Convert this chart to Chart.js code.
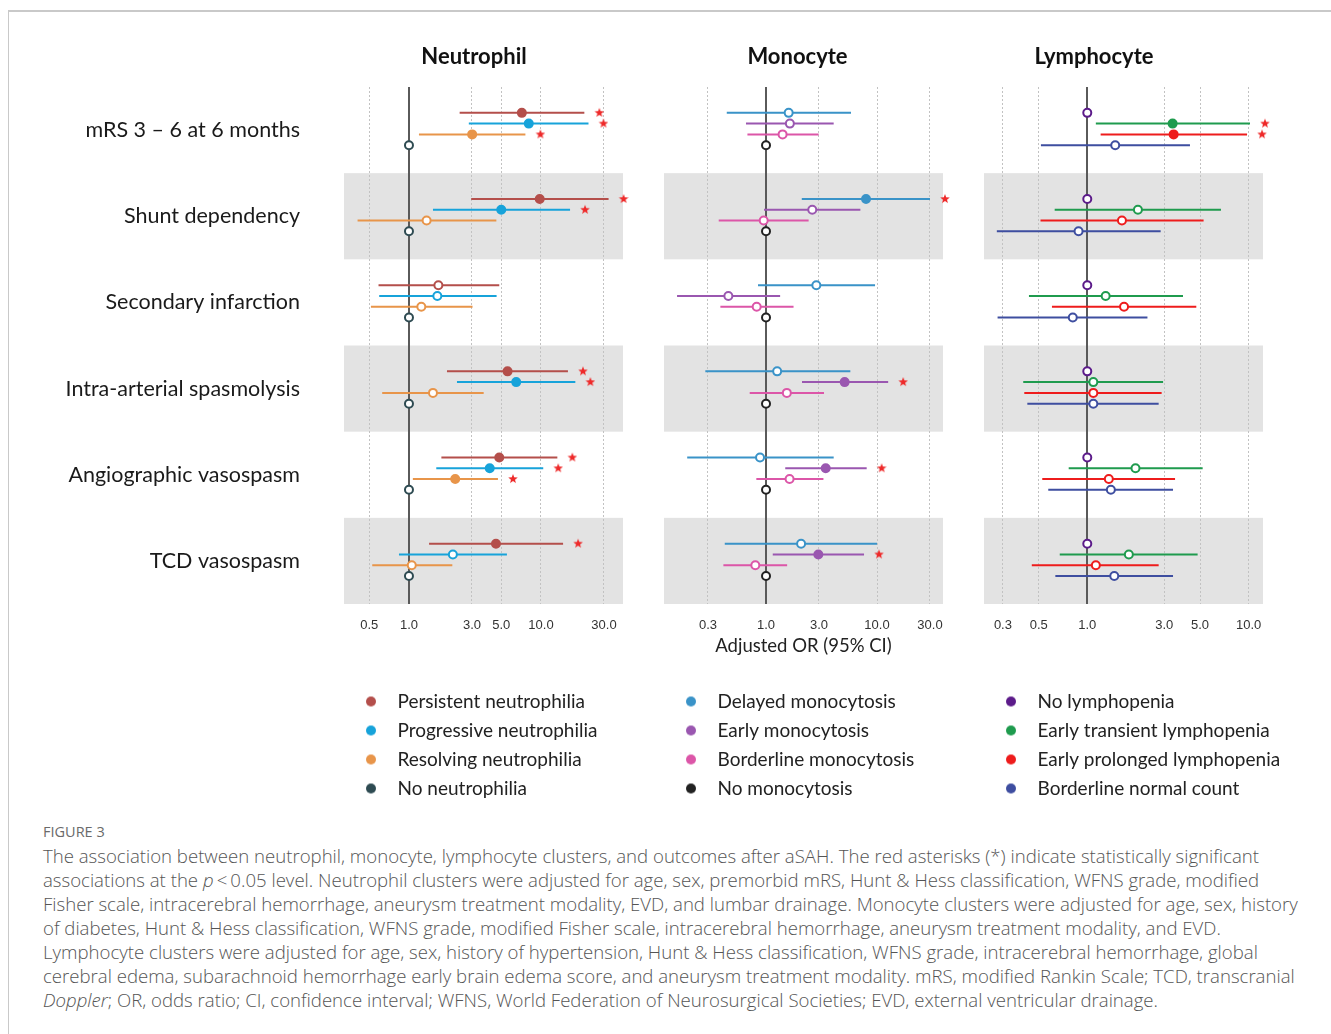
<!DOCTYPE html>
<html>
<head>
<meta charset="utf-8">
<script src="https://cdn.jsdelivr.net/npm/chart.js@4.4.1/dist/chart.umd.min.js"></script>
<style>
  body { margin: 0; background: #fff; width: 1331px; height: 1034px; overflow: hidden; position: relative; }
  .frame { position: absolute; left: 8px; top: 10px; right: 0; height: 1100px; border-top: 2px solid #c9c9c9; border-left: 1px solid #c9c9c9; }
  .panel { position: absolute; top: 0; height: 820px; }
  #wrapN { left: 0; width: 640px; }
  #wrapM { left: 640px; width: 320px; }
  #wrapL { left: 960px; width: 371px; }
  .caption { position: absolute; left: 43px; top: 822px; font-family: "Open Sans", sans-serif; color: #555; }
  .caption .fig { font-size: 14.5px; line-height: 20px; color: #6a6a6a; }
  .caption .txt { font-size: 18.6px; line-height: 24px; font-weight: 300; white-space: nowrap; margin-top: 2px; }
</style>
</head>
<body>
<div class="frame"></div>
<div class="panel" id="wrapN"><canvas id="chartN"></canvas></div>
<div class="panel" id="wrapM"><canvas id="chartM"></canvas></div>
<div class="panel" id="wrapL"><canvas id="chartL"></canvas></div>
<div class="caption">
  <div class="fig">FIGURE 3</div>
  <div class="txt">
    The association between neutrophil, monocyte, lymphocyte clusters, and outcomes after aSAH. The red asterisks (*) indicate statistically significant<br>
    associations at the <i>p</i>&thinsp;&lt;&thinsp;0.05 level. Neutrophil clusters were adjusted for age, sex, premorbid mRS, Hunt &amp; Hess classification, WFNS grade, modified<br>
    Fisher scale, intracerebral hemorrhage, aneurysm treatment modality, EVD, and lumbar drainage. Monocyte clusters were adjusted for age, sex, history<br>
    of diabetes, Hunt &amp; Hess classification, WFNS grade, modified Fisher scale, intracerebral hemorrhage, aneurysm treatment modality, and EVD.<br>
    Lymphocyte clusters were adjusted for age, sex, history of hypertension, Hunt &amp; Hess classification, WFNS grade, intracerebral hemorrhage, global<br>
    cerebral edema, subarachnoid hemorrhage early brain edema score, and aneurysm treatment modality. mRS, modified Rankin Scale; TCD, transcranial<br>
    <i>Doppler</i>; OR, odds ratio; CI, confidence interval; WFNS, World Federation of Neurosurgical Societies; EVD, external ventricular drainage.
  </div>
</div>
<script>
// outcomes (one block of rows each)
const outcomes = ['mRS 3 – 6 at 6 months', 'Shunt dependency', 'Secondary infarction',
  'Intra-arterial spasmolysis', 'Angiographic vasospasm', 'TCD vasospasm'];

// neutrophil clusters, one row per cluster in each outcome
const neutClusters = ['Persistent neutrophilia', 'Progressive neutrophilia', 'Resolving neutrophilia', 'No neutrophilia'];
const neutColors = ['#b44f4b', '#17a3da', '#e8954a', '#2e4b52'];
const neutOR = [
  [7.16, 9.78, 1.67, 5.58, 4.83, 4.56],
  [8.08, 5.00, 1.64, 6.49, 4.09, 2.15],
  [3.01, 1.36, 1.24, 1.52, 2.24, 1.05],
  [1, 1, 1, 1, 1, 1],
];
const neutLo = [
  [2.42, 2.96, 0.588, 1.94, 1.76, 1.42],
  [2.84, 1.52, 0.595, 2.31, 1.61, 0.84],
  [1.19, 0.408, 0.515, 0.627, 1.07, 0.527],
  null,
];
const neutHi = [
  [21.3, 32.5, 4.83, 16.0, 13.3, 14.7],
  [22.9, 16.6, 4.61, 18.2, 10.4, 5.52],
  [7.62, 4.59, 3.03, 3.68, 4.72, 2.13],
  null,
];
const neutSig = [
  [1, 1, 0, 1, 1, 1],
  [1, 1, 0, 1, 1, 0],
  [1, 0, 0, 0, 1, 0],
  [0, 0, 0, 0, 0, 0],
];
const neutTicks = [0.5, 1, 3, 5, 10, 30];

// monocyte clusters
const monoClusters = ['Delayed monocytosis', 'Early monocytosis', 'Borderline monocytosis', 'No monocytosis'];
const monoColors = ['#3a93c8', '#9a57b0', '#dc56a8', '#222222'];
const monoOR = [
  [1.60, 7.96, 2.84, 1.26, 0.883, 2.07],
  [1.64, 2.61, 0.458, 5.11, 3.45, 2.96],
  [1.41, 0.953, 0.824, 1.54, 1.63, 0.801],
  [1, 1, 1, 1, 1, 1],
];
const monoLo = [
  [0.443, 2.10, 0.847, 0.284, 0.195, 0.425],
  [0.66, 0.96, 0.158, 2.11, 1.49, 1.15],
  [0.68, 0.375, 0.388, 0.713, 0.818, 0.413],
  null,
];
const monoHi = [
  [5.83, 30.0, 9.6, 5.75, 4.07, 10.0],
  [4.07, 7.08, 1.34, 12.6, 8.07, 7.64],
  [2.98, 2.42, 1.77, 3.33, 3.29, 1.55],
  null,
];
const monoSig = [
  [0, 1, 0, 0, 0, 0],
  [0, 0, 0, 1, 1, 1],
  [0, 0, 0, 0, 0, 0],
  [0, 0, 0, 0, 0, 0],
];
const monoTicks = [0.3, 1, 3, 10, 30];

// lymphocyte clusters (reference group is listed first here)
const lymphClusters = ['No lymphopenia', 'Early transient lymphopenia', 'Early prolonged lymphopenia', 'Borderline normal count'];
const lymphColors = ['#5c1b8a', '#1f9b4e', '#ee1c1c', '#3e4ea0'];
const lymphOR = [
  [1, 1, 1, 1, 1, 1],
  [3.38, 2.06, 1.30, 1.09, 1.99, 1.81],
  [3.43, 1.64, 1.69, 1.09, 1.36, 1.13],
  [1.49, 0.883, 0.813, 1.09, 1.40, 1.47],
];
const lymphLo = [
  null,
  [1.13, 0.628, 0.435, 0.401, 0.767, 0.675],
  [1.21, 0.513, 0.604, 0.407, 0.526, 0.453],
  [0.516, 0.275, 0.278, 0.425, 0.573, 0.634],
];
const lymphHi = [
  null,
  [10.2, 6.74, 3.92, 2.95, 5.19, 4.83],
  [9.78, 5.26, 4.74, 2.89, 3.50, 2.77],
  [4.33, 2.85, 2.36, 2.77, 3.40, 3.40],
];
const lymphSig = [
  [0, 0, 0, 0, 0, 0],
  [1, 0, 0, 0, 0, 0],
  [1, 0, 0, 0, 0, 0],
  [0, 0, 0, 0, 0, 0],
];
const lymphTicks = [0.3, 0.5, 1, 3, 5, 10];

const ROWS_PER_BLOCK = 8;
const rowY = (g, k) => g * ROWS_PER_BLOCK + 2.4 + k;

// small images used as point styles
function dotImage(color) {
  const c = document.createElement('canvas');
  c.width = 12; c.height = 12;
  const g = c.getContext('2d');
  g.fillStyle = color;
  g.beginPath(); g.arc(6, 6, 5, 0, Math.PI * 2); g.fill();
  return c;
}
// star sits 15px to the right of the point it is attached to
function starImage(color) {
  const c = document.createElement('canvas');
  c.width = 40; c.height = 12;
  const g = c.getContext('2d');
  g.fillStyle = color;
  g.beginPath();
  for (let i = 0; i < 10; i++) {
    const a = -Math.PI / 2 + i * Math.PI / 5;
    const r = i % 2 ? 2.1 : 5;
    g.lineTo(35 + r * Math.cos(a), 6 + r * Math.sin(a));
  }
  g.closePath(); g.fill();
  return c;
}
const star = starImage('#ee2a2a');

const bandsPlugin = {
  id: 'bands',
  beforeDraw(chart) {
    const {ctx, chartArea: {left, right}, scales: {y}} = chart;
    ctx.save();
    ctx.fillStyle = '#e3e3e3';
    outcomes.forEach((o, g) => {
      if (g % 2 === 1) {
        const top = y.getPixelForValue(g * ROWS_PER_BLOCK);
        const bottom = y.getPixelForValue((g + 1) * ROWS_PER_BLOCK);
        ctx.fillRect(left, top, right - left, bottom - top);
      }
    });
    ctx.restore();
  },
};

const panelTitlePlugin = {
  id: 'panelTitle',
  afterDraw(chart, args, opts) {
    const {ctx, chartArea} = chart;
    ctx.save();
    ctx.font = 'bold 22px Lato';
    ctx.fillStyle = '#111';
    ctx.textAlign = 'center';
    ctx.textBaseline = 'middle';
    ctx.fillText(opts.text, (chartArea.left + chartArea.right) / 2 + opts.dx, 57);
    ctx.restore();
  },
};

function buildDatasets(clusters, colors, or, lo, hi, sig) {
  const datasets = [];
  clusters.forEach((name, k) => {
    if (lo[k]) {
      const seg = [];
      outcomes.forEach((o, g) => {
        seg.push({x: lo[k][g], y: rowY(g, k)}, {x: hi[k][g], y: rowY(g, k)}, {x: null, y: null});
      });
      datasets.push({
        label: name + ' CI', data: seg, showLine: true, spanGaps: false,
        borderColor: colors[k], borderWidth: 2, pointRadius: 0, order: 2,
      });
    }
    datasets.push({
      label: name,
      data: outcomes.map((o, g) => ({x: or[k][g], y: rowY(g, k)})),
      pointRadius: 4,
      pointBorderWidth: 2,
      pointBorderColor: colors[k],
      pointBackgroundColor: outcomes.map((o, g) => (sig[k][g] ? colors[k] : '#ffffff')),
      order: 1,
    });
  });
  const stars = [];
  clusters.forEach((name, k) => {
    outcomes.forEach((o, g) => {
      if (sig[k][g]) stars.push({x: hi[k][g], y: rowY(g, k)});
    });
  });
  datasets.push({label: 'p < 0.05', data: stars, pointStyle: star, pointRadius: 6, clip: false, order: 0});
  return datasets;
}

function makePanel(canvasId, cfg) {
  const tickVals = cfg.ticks;
  const scales = {
    x: {
      type: 'logarithmic',
      bounds: 'data',
      min: cfg.min,
      max: cfg.max,
      afterBuildTicks: (s) => { s.ticks = tickVals.map((v) => ({value: v})); },
      afterFit: (s) => { s.height = 78; },
      grid: {
        drawTicks: false,
        color: (c) => (c.tick && c.tick.value === 1 ? '#5a5a5a' : '#c2c2c2'),
        lineWidth: (c) => (c.tick && c.tick.value === 1 ? 2 : 1),
      },
      border: {display: false, dash: (c) => (c.tick && c.tick.value === 1 ? [] : [2, 2])},
      ticks: {
        padding: 14, autoSkip: false, maxRotation: 0,
        font: {family: 'Liberation Sans', size: 13}, color: '#333',
        callback: (v) => Number(v).toFixed(1),
      },
      title: {
        display: !!cfg.axisTitle, text: cfg.axisTitle || '',
        font: {family: 'Lato', size: 18.5}, color: '#222', padding: {top: 0, bottom: 25},
      },
    },
    y: {
      type: 'linear',
      min: 0,
      max: outcomes.length * ROWS_PER_BLOCK,
      reverse: true,
      display: cfg.rowLabels,
      grid: {display: false, drawTicks: false},
      border: {display: false},
      afterBuildTicks: (s) => { s.ticks = outcomes.map((o, g) => ({value: g * ROWS_PER_BLOCK + 4})); },
      afterFit: (s) => { if (cfg.rowLabels) s.width = 344; },
      ticks: {
        padding: 44, autoSkip: false,
        font: {family: 'Lato', size: 21.5}, color: '#1a1a1a',
        callback: (v, i) => outcomes[i],
      },
    },
  };
  if (cfg.rightGap) {
    // empty axis that only reserves room on the right, so the legend may run past the plot
    scales.gap = {
      type: 'linear', position: 'right', display: true,
      grid: {display: false, drawTicks: false}, border: {display: false}, ticks: {display: false},
      afterFit: (s) => { s.width = cfg.rightGap; },
    };
  }
  return new Chart(document.getElementById(canvasId), {
    type: 'scatter',
    data: {datasets: buildDatasets(cfg.clusters, cfg.colors, cfg.or, cfg.lo, cfg.hi, cfg.sig)},
    options: {
      responsive: true,
      maintainAspectRatio: false,
      animation: false,
      events: [],
      layout: {padding: cfg.padding},
      scales,
      plugins: {
        tooltip: {enabled: false},
        panelTitle: {text: cfg.title, dx: cfg.titleDx},
        legend: {
          display: true,
          position: 'bottom',
          fullSize: !!cfg.rightGap,
          align: 'start',
          labels: {
            usePointStyle: true,
            pointStyleWidth: 34,
            padding: 10,
            color: '#222',
            font: {family: 'Lato', size: 19},
            generateLabels: () => cfg.clusters.map((name, k) => ({
              text: name, pointStyle: dotImage(cfg.colors[k]), fillStyle: cfg.colors[k],
              strokeStyle: cfg.colors[k], lineWidth: 0, hidden: false, datasetIndex: k, fontColor: '#222',
            })),
          },
        },
      },
    },
    plugins: [bandsPlugin, panelTitlePlugin],
  });
}

makePanel('chartN', {
  title: 'Neutrophil', titleDx: -9.5, rowLabels: true,
  clusters: neutClusters, colors: neutColors, or: neutOR, lo: neutLo, hi: neutHi, sig: neutSig,
  ticks: neutTicks, min: 0.322, max: 41.8,
  padding: {left: 0, right: 17, top: 87, bottom: 12},
});
makePanel('chartM', {
  title: 'Monocyte', titleDx: -6, rowLabels: false, axisTitle: 'Adjusted OR (95% CI)',
  clusters: monoClusters, colors: monoColors, or: monoOR, lo: monoLo, hi: monoHi, sig: monoSig,
  ticks: monoTicks, min: 0.1205, max: 39.3,
  padding: {left: 24, right: 17, top: 87, bottom: 12},
});
makePanel('chartL', {
  title: 'Lymphocyte', titleDx: -29.5, rowLabels: false, rightGap: 68,
  clusters: lymphClusters, colors: lymphColors, or: lymphOR, lo: lymphLo, hi: lymphHi, sig: lymphSig,
  ticks: lymphTicks, min: 0.229, max: 12.28,
  padding: {left: 24, right: 0, top: 87, bottom: 12},
});
</script>
</body>
</html>
